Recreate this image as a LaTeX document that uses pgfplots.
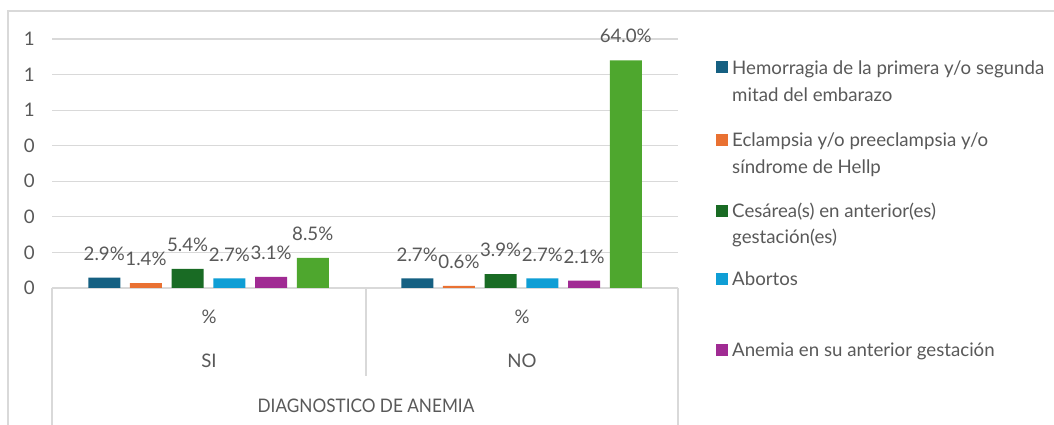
\documentclass[border=0pt]{standalone}
\usepackage{fontspec}
\setmainfont{Lato}
\usepackage{pgfplots}
\pgfplotsset{compat=1.18}
\definecolor{c1}{HTML}{156082}
\definecolor{c2}{HTML}{E97132}
\definecolor{c3}{HTML}{196B24}
\definecolor{c4}{HTML}{0F9ED5}
\definecolor{c5}{HTML}{A02B93}
\definecolor{c6}{HTML}{4EA72E}
\definecolor{txt}{HTML}{595959}
\definecolor{gridc}{HTML}{D9D9D9}
\newcommand{\fs}{\fontsize{18.67}{22}\selectfont}
\begin{document}
\begin{tikzpicture}[x=1pt,y=1pt]
\useasboundingbox (0,0) rectangle (1054,425);
\fill[white] (0,0) rectangle (1054,425);
\begin{scope}
\clip (0,0) rectangle (1054,425);
\draw[gridc, line width=1.2pt] (8,0) -- (8,414) -- (1054,414);
\draw[gridc, line width=1.2pt] (52,137) -- (52,0);
\draw[gridc, line width=1.2pt] (366,137) -- (366,49);
\draw[gridc, line width=1.2pt] (678,137) -- (678,0);
\end{scope}
\begin{axis}[
  at={(52pt,137pt)}, anchor=south west,
  scale only axis, width=626pt, height=249pt,
  xmin=-0.5, xmax=1.5, ymin=0, ymax=0.7,
  ybar=9.7pt, bar width=32pt,
  xtick=\empty,
  ytick={0,0.1,0.2,0.3,0.4,0.5,0.6,0.7},
  yticklabels={0,0,0,0,0,1,1,1},
  yticklabel style={font=\fs, text=txt, inner sep=0pt},
  yticklabel shift=17pt,
  major tick length=0pt,
  axis x line*=bottom, axis y line*=left,
  x axis line style={draw=gridc, line width=1.2pt, -},
  y axis line style={draw=none},
  ymajorgrids, grid style={draw=gridc, line width=1.2pt},
  /pgf/number format/assume math mode=true,
  point meta=explicit,
  nodes near coords={\pgfmathprintnumber[fixed,fixed zerofill,precision=1]{\pgfplotspointmeta}\%},
  every node near coord/.append style={font=\fs, text=txt, inner sep=0pt, yshift=17pt},
  clip=false,
]
\addplot[fill=c1, draw=none] coordinates {(0,0.029) [2.9] (1,0.027) [2.7]};
\addplot[fill=c2, draw=none] coordinates {(0,0.014) [1.4] (1,0.006) [0.6]};
\addplot[fill=c3, draw=none] coordinates {(0,0.054) [5.4] (1,0.039) [3.9]};
\addplot[fill=c4, draw=none] coordinates {(0,0.027) [2.7] (1,0.027) [2.7]};
\addplot[fill=c5, draw=none] coordinates {(0,0.031) [3.1] (1,0.021) [2.1]};
\addplot[fill=c6, draw=none] coordinates {(0,0.085) [8.5] (1,0.640) [64.0]};
\end{axis}
\begin{scope}[every node/.style={font=\fs, text=txt, inner sep=0pt}]
\node[anchor=base] at (209,101.5) {\%};
\node[anchor=base] at (522,101.5) {\%};
\node[anchor=base] at (209,57.5) {SI};
\node[anchor=base] at (522,57.5) {NO};
\node[anchor=base] at (366,12.5) {\scalebox{0.92}[1]{DIAGNOSTICO DE ANEMIA}};
% legend
\fill[c1] (716,351.5) rectangle (728,363.5);
\node[anchor=base west] at (732,350.5) {Hemorragia de la primera y/o segunda};
\node[anchor=base west] at (732,323.5) {mitad del embarazo};
\fill[c2] (716,279) rectangle (728,291);
\node[anchor=base west] at (732,278.5) {Eclampsia y/o preeclampsia y/o};
\node[anchor=base west] at (732,251.5) {síndrome de Hellp};
\fill[c3] (716,208) rectangle (728,220);
\node[anchor=base west] at (732,207.5) {Cesárea(s) en anterior(es)};
\node[anchor=base west] at (732,181.5) {gestación(es)};
\fill[c4] (716,140) rectangle (728,152);
\node[anchor=base west] at (732,139.5) {Abortos};
\fill[c5] (716,69) rectangle (728,81);
\node[anchor=base west] at (732,68.5) {Anemia en su anterior gestación};
\end{scope}
\end{tikzpicture}
\end{document}
